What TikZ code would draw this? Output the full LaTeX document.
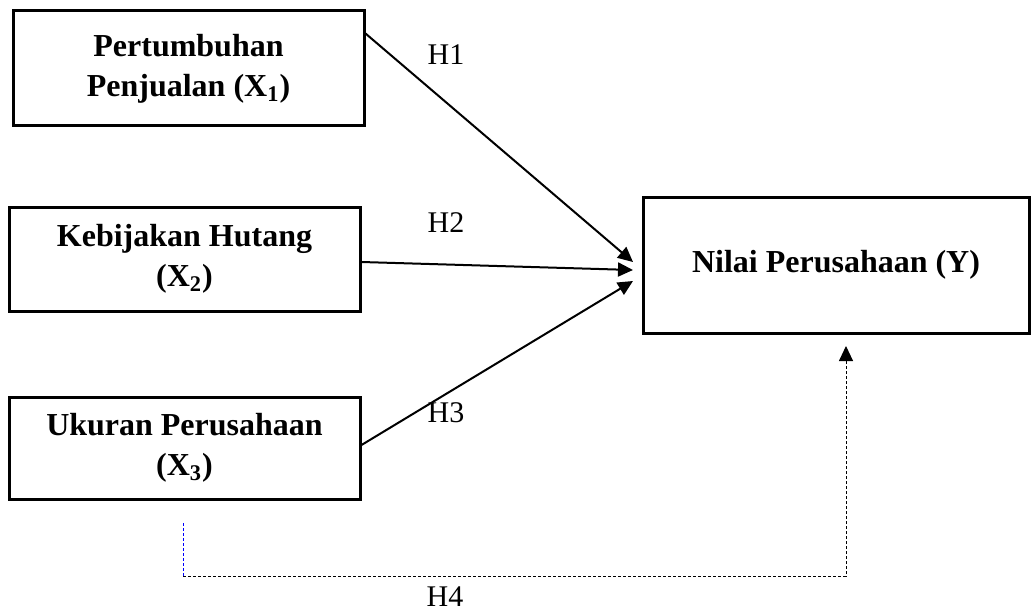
\documentclass[tikz,border=0pt]{standalone}
\usepackage{fontspec}
\setmainfont{Liberation Serif}
\usetikzlibrary{arrows.meta}
\tikzset{
  varbox/.style={draw, line width=1.5pt, align=center, inner sep=0pt,
    font=\fontsize{16}{20}\selectfont\bfseries},
  hyplabel/.style={font=\fontsize{15}{18}\selectfont},
  hyparrow/.style={line width=1pt, -{Triangle[length=7.5pt,width=7pt]}},
  hypdash/.style={line width=0.5pt, dash pattern=on 1.6pt off 0.9pt}
}
\begin{document}
\begin{tikzpicture}[x=0.5pt,y=-0.5pt]
\useasboundingbox (0,0) rectangle (1033,615);
\node[varbox, minimum width=175.5pt, minimum height=57.5pt] (x1) at (188.5,68.5) {Pertumbuhan\\Penjualan (X\textsubscript{1})};
\node[varbox, minimum width=175.5pt, minimum height=52pt] (x2) at (184.5,259) {Kebijakan Hutang\\(X\textsubscript{2})};
\node[varbox, minimum width=175.5pt, minimum height=51pt] (x3) at (184.5,448) {Ukuran Perusahaan\\(X\textsubscript{3})};
\node[varbox, minimum width=193pt, minimum height=68pt] (y) at (836,265) {Nilai Perusahaan (Y)};

\node[hyplabel] (h1) at (446,55) {H1};
\node[hyplabel] (h2) at (446,223) {H2};
\node[hyplabel] (h3) at (446,413) {H3};
\node[hyplabel] (h4) at (445,597) {H4};

\coordinate (t1) at (633,262);
\coordinate (t2) at (633,270);
\coordinate (t3) at (633,281);
\coordinate (h4s) at (183,523);
\coordinate (h4c) at (183,576);
\coordinate (h4t) at (846,346);

\draw[hyparrow] ([yshift=-12pt]x1.north east) -- (t1);
\draw[hyparrow] ([yshift=-1.5pt]x2.east) -- (t2);
\draw[hyparrow] ([yshift=1.5pt]x3.east) -- (t3);
\draw[hypdash, blue] (h4s) -- (h4c);
\draw[hypdash, -{Triangle[length=7.5pt,width=7pt]}] (h4c) -- (h4c -| h4t) -- (h4t);
\end{tikzpicture}
\end{document}
